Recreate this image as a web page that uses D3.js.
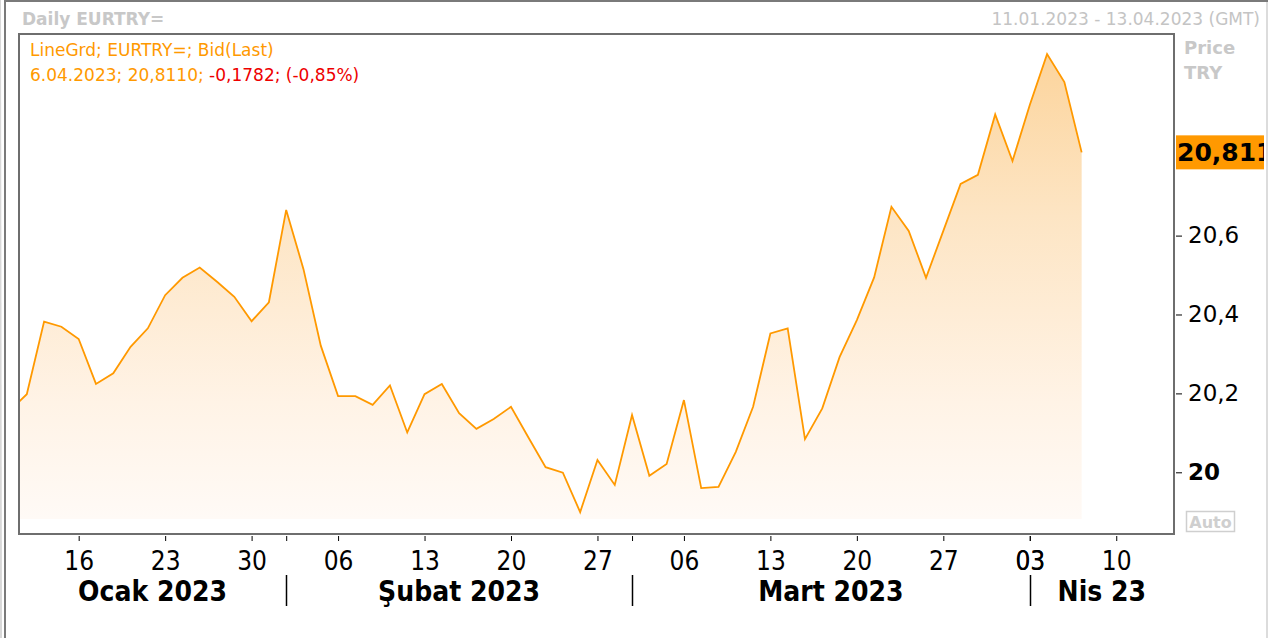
<!DOCTYPE html>
<html>
<head>
<meta charset="utf-8">
<script src="https://cdn.jsdelivr.net/npm/d3@7"></script>
<style>
  body { margin: 0; background: #fff; }
  svg { display: block; }
  .cond { font-family: "DejaVu Sans Condensed", "DejaVu Sans", sans-serif; font-stretch: condensed; }
</style>
</head>
<body>
<svg id="chart" width="1274" height="638"></svg>
<script>
// EURTRY= daily bid, trading days
var dates = [
  "2023-01-10","2023-01-11","2023-01-12","2023-01-13","2023-01-16","2023-01-17","2023-01-18","2023-01-19","2023-01-20",
  "2023-01-23","2023-01-24","2023-01-25","2023-01-26","2023-01-27","2023-01-30","2023-01-31",
  "2023-02-01","2023-02-02","2023-02-03","2023-02-06","2023-02-07","2023-02-08","2023-02-09","2023-02-10",
  "2023-02-13","2023-02-14","2023-02-15","2023-02-16","2023-02-17","2023-02-20","2023-02-21","2023-02-22",
  "2023-02-23","2023-02-24","2023-02-27","2023-02-28",
  "2023-03-01","2023-03-02","2023-03-03","2023-03-06","2023-03-07","2023-03-08","2023-03-09","2023-03-10",
  "2023-03-13","2023-03-14","2023-03-15","2023-03-16","2023-03-17","2023-03-20","2023-03-21","2023-03-22",
  "2023-03-23","2023-03-24","2023-03-27","2023-03-28","2023-03-29","2023-03-30","2023-03-31",
  "2023-04-03","2023-04-04","2023-04-05","2023-04-06"
];
var bid = [
  20.155, 20.198, 20.382, 20.369, 20.338, 20.224, 20.251, 20.318, 20.365,
  20.449, 20.493, 20.519, 20.483, 20.445, 20.383, 20.431,
  20.665, 20.515, 20.321, 20.193, 20.193, 20.171, 20.220, 20.101,
  20.198, 20.224, 20.150, 20.110, 20.135, 20.166, 20.089, 20.013,
  19.999, 19.899, 20.031, 19.968,
  20.145, 19.991, 20.021, 20.183, 19.960, 19.963, 20.052, 20.166,
  20.352, 20.365, 20.084, 20.162, 20.292, 20.386, 20.494, 20.673,
  20.612, 20.493, 20.612, 20.731, 20.754, 20.907, 20.789,
  20.931, 21.060, 20.989, 20.811
];
var weekTicks = ["2023-01-16","2023-01-23","2023-01-30","2023-02-06","2023-02-13","2023-02-20","2023-02-27",
  "2023-03-06","2023-03-13","2023-03-20","2023-03-27","2023-04-03","2023-04-10"];
var monthStarts = ["2023-02-01","2023-03-01","2023-04-03"];
var monthLabels = ["Ocak 2023","Şubat 2023","Mart 2023","Nis 23"];
var yTicks = [20, 20.2, 20.4, 20.6, 20.8];
var lastLabel = "20,811";

var svg = d3.select("#chart");
var W = 1274, H = 638;
var plot = {left: 19, top: 34, right: 1174, bottom: 534};

// trading-day calendar (weekends skipped on the axis)
var fmt = d3.timeFormat("%Y-%m-%d");
var days = d3.timeDay.range(new Date(2023, 0, 9), new Date(2023, 3, 22))
    .filter(d => d.getDay() != 0 && d.getDay() != 6);
var dayIndex = {};
days.forEach((d, i) => dayIndex[fmt(d)] = i);

var x = d3.scaleLinear()
    .domain([dayIndex["2023-01-10"] + 0.549, dayIndex["2023-01-10"] + 67.34])
    .range([plot.left, plot.right]);
var y = d3.scaleLinear()
    .domain([19.8436, 21.111])
    .range([plot.bottom, plot.top]);

var data = dates.map((d, i) => ({idx: dayIndex[d], val: bid[i]}));

// outer frame
svg.append("rect").attr("width", W).attr("height", H).attr("fill", "#fff");
svg.append("line").attr("x1", 5).attr("x2", 5).attr("y1", 0).attr("y2", H)
    .attr("stroke", "#7a7a7a").attr("stroke-width", 2);
svg.append("line").attr("x1", 0).attr("x2", 1).attr("y1", 0).attr("y2", H)
    .attr("stroke", "#d8d8d8").attr("stroke-width", 2);
svg.append("line").attr("x1", 4).attr("x2", 1268).attr("y1", 1).attr("y2", 1)
    .attr("stroke", "#7a7a7a").attr("stroke-width", 2);
svg.append("line").attr("x1", 1267).attr("x2", 1267).attr("y1", 2).attr("y2", H)
    .attr("stroke", "#dcdcdc").attr("stroke-width", 2);

// header
svg.append("text").attr("x", 22).attr("y", 25)
    .attr("font-family", "DejaVu Sans").attr("font-weight", "bold").attr("font-size", 17)
    .attr("fill", "#c8c8c8").text("Daily EURTRY=");
svg.append("text").attr("x", 1260).attr("y", 25).attr("text-anchor", "end")
    .attr("font-family", "DejaVu Sans").attr("font-size", 17)
    .attr("fill", "#c4c4c4").text("11.01.2023 - 13.04.2023 (GMT)");

// area + line
var defs = svg.append("defs");
defs.append("clipPath").attr("id", "clip").append("rect")
    .attr("x", plot.left).attr("y", plot.top)
    .attr("width", plot.right - plot.left).attr("height", plot.bottom - plot.top);
var grad = defs.append("linearGradient").attr("id", "fillGrad")
    .attr("gradientUnits", "userSpaceOnUse")
    .attr("x1", 0).attr("x2", 0).attr("y1", y(21.06)).attr("y2", 519);
grad.append("stop").attr("offset", "0%").attr("stop-color", "#fcd49c");
grad.append("stop").attr("offset", "35%").attr("stop-color", "#fde5c4");
grad.append("stop").attr("offset", "75%").attr("stop-color", "#fff3e6");
grad.append("stop").attr("offset", "100%").attr("stop-color", "#fffaf6");

var g = svg.append("g").attr("clip-path", "url(#clip)");
var area = d3.area()
    .x(d => x(d.idx))
    .y0(519)
    .y1(d => y(d.val));
var line = d3.line()
    .x(d => x(d.idx))
    .y(d => y(d.val));
g.append("path").datum(data).attr("d", area).attr("fill", "url(#fillGrad)");
g.append("path").datum(data).attr("d", line)
    .attr("fill", "none").attr("stroke", "#ff9900").attr("stroke-width", 1.8)
    .attr("stroke-linejoin", "miter");

// legend
svg.append("text").attr("font-family", "DejaVu Sans").attr("font-size", 17)
    .attr("x", 30).attr("y", 56).attr("fill", "#ff9900")
    .text("LineGrd; EURTRY=; Bid(Last)");
var leg2 = svg.append("text").attr("font-family", "DejaVu Sans").attr("font-size", 17)
    .attr("x", 30).attr("y", 81);
leg2.append("tspan").attr("fill", "#ff9900").text("6.04.2023; 20,8110; ");
leg2.append("tspan").attr("fill", "#ee0000").text("-0,1782; (-0,85%)");

// plot frame
svg.append("rect")
    .attr("x", plot.left).attr("y", plot.top)
    .attr("width", plot.right - plot.left).attr("height", plot.bottom - plot.top)
    .attr("fill", "none").attr("stroke", "#6e6e6e").attr("stroke-width", 2);

// y axis on the right (20,8 sits behind the last-value box, so only its tick is drawn)
var yAxis = d3.axisRight(y)
    .tickValues(yTicks)
    .tickSize(6)
    .tickPadding(6)
    .tickFormat(d => d3.format(".1f")(d).replace(/\.0$/, "").replace(".", ","));
var ya = svg.append("g").attr("transform", "translate(" + (plot.right + 2) + ",0)").call(yAxis);
ya.select(".domain").remove();
ya.selectAll("line").attr("stroke", "#000");
ya.selectAll("text")
    .attr("font-family", "DejaVu Sans").attr("font-size", 23).attr("fill", "#000")
    .attr("font-weight", d => d == 20 ? "bold" : "normal");
ya.selectAll(".tick").filter(d => d == 20.8).select("text").remove();

// last value marker
var lastY = y(bid[bid.length - 1]);
svg.append("rect").attr("x", plot.right + 2).attr("y", lastY - 17)
    .attr("width", 88).attr("height", 34).attr("fill", "#ff9900");
svg.append("clipPath").attr("id", "lastClip").append("rect")
    .attr("x", plot.right + 2).attr("y", lastY - 17).attr("width", 88).attr("height", 34);
svg.append("text").attr("clip-path", "url(#lastClip)")
    .attr("x", plot.right + 3).attr("y", lastY + 9)
    .attr("font-family", "DejaVu Sans").attr("font-weight", "bold").attr("font-size", 25)
    .attr("fill", "#000").text(lastLabel);

// Price / TRY / Auto
svg.append("text").attr("x", 1184).attr("y", 54)
    .attr("font-family", "DejaVu Sans").attr("font-weight", "bold").attr("font-size", 18)
    .attr("fill", "#c8c8c8").text("Price");
svg.append("text").attr("x", 1184).attr("y", 79)
    .attr("font-family", "DejaVu Sans").attr("font-weight", "bold").attr("font-size", 18)
    .attr("fill", "#c8c8c8").text("TRY");
svg.append("rect").attr("x", 1186.5).attr("y", 511.5).attr("width", 48).attr("height", 20)
    .attr("fill", "none").attr("stroke", "#cfcfcf").attr("stroke-width", 1.5);
svg.append("text").attr("x", 1210.5).attr("y", 528).attr("text-anchor", "middle")
    .attr("font-family", "DejaVu Sans").attr("font-weight", "bold").attr("font-size", 16)
    .attr("fill", "#cfcfcf").text("Auto");

// x axis: weekly ticks plus unlabeled month starts
var tickIdx = weekTicks.map(d => dayIndex[d]);
var allTicks = tickIdx.concat(monthStarts.map(d => dayIndex[d]));
var labelOf = {};
weekTicks.forEach(d => labelOf[dayIndex[d]] = d.slice(8, 10));
var xAxis = d3.axisBottom(x)
    .tickValues(allTicks)
    .tickSize(5)
    .tickPadding(6)
    .tickFormat(d => labelOf[d] || "");
var xa = svg.append("g").attr("transform", "translate(0," + (plot.bottom + 2) + ")").call(xAxis);
xa.select(".domain").remove();
xa.selectAll("line").attr("stroke", "#000");
xa.selectAll("text").attr("class", "cond")
    .attr("font-size", 26).attr("fill", "#000").attr("dy", "0.9em");

// month separators and labels
var bounds = [plot.left].concat(monthStarts.map(d => x(dayIndex[d]))).concat([plot.right]);
monthStarts.forEach(d => {
    var xx = Math.round(x(dayIndex[d])) + 0.5;
    svg.append("line").attr("x1", xx).attr("x2", xx).attr("y1", 575).attr("y2", 606)
        .attr("stroke", "#000").attr("stroke-width", 1.5);
});
monthLabels.forEach((m, i) => {
    svg.append("text").attr("class", "cond")
        .attr("x", (bounds[i] + bounds[i + 1]) / 2).attr("y", 601)
        .attr("text-anchor", "middle")
        .attr("font-weight", "bold").attr("font-size", 28).attr("fill", "#000")
        .text(m);
});
</script>
</body>
</html>
